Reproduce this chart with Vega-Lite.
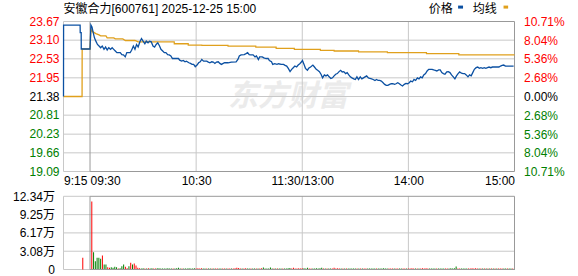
{
"$schema": "https://vega.github.io/schema/vega-lite/v6.json",
"width": 461, "height": 248,
"autosize": {"type": "none"},
"padding": {"left": 58.5, "top": 21.5, "right": 58.5, "bottom": 6.5},
"config": {"view": {"stroke": null}, "font": "Liberation Sans, Noto Sans CJK SC, sans-serif"},
"datasets": {
"price": [{"t":0,"p":21.38},{"t":0.05,"p":23.56},{"t":9.4,"p":23.56},{"t":9.45,"p":23.33},{"t":10.0,"p":23.33},{"t":10.05,"p":22.83},{"t":15,"p":22.83},
{"t":15.5,"p":23.56},{"t":16.1,"p":23.5},{"t":16.8,"p":23.33},{"t":17.5,"p":23.17},{"t":18.3,"p":23.07},{"t":19.2,"p":22.97},{"t":20.1,"p":22.92},{"t":21.0,"p":22.87},{"t":21.9,"p":22.92},{"t":22.9,"p":22.82},{"t":23.8,"p":22.89},{"t":24.7,"p":22.8},{"t":25.6,"p":22.87},{"t":26.6,"p":22.82},{"t":27.5,"p":22.87},{"t":28.4,"p":22.82},{"t":29.3,"p":22.77},{"t":30.2,"p":22.72},{"t":32.1,"p":22.72},{"t":33.0,"p":22.66},{"t":33.9,"p":22.65},{"t":34.9,"p":22.59},{"t":35.8,"p":22.72},{"t":37.7,"p":22.72},{"t":38.5,"p":22.79},{"t":39.5,"p":22.92},{"t":40.4,"p":22.82},{"t":41.3,"p":22.97},{"t":42.2,"p":22.89},{"t":43.2,"p":23.05},{"t":44.1,"p":23.15},{"t":45.0,"p":23.07},{"t":46.0,"p":22.99},{"t":46.8,"p":23.07},{"t":47.8,"p":23.02},{"t":48.7,"p":23.07},{"t":49.6,"p":23.05},
{"t":50.6,"p":22.92},{"t":51.5,"p":22.89},{"t":52.4,"p":22.97},{"t":53.3,"p":23.02},{"t":54.3,"p":22.92},{"t":55.1,"p":22.82},{"t":56.1,"p":22.77},{"t":57.0,"p":22.72},{"t":57.9,"p":22.72},{"t":58.9,"p":22.66},{"t":59.8,"p":22.65},{"t":60.7,"p":22.62},{"t":61.6,"p":22.54},{"t":63.5,"p":22.54},{"t":65.0,"p":22.54},{"t":65.7,"p":22.49},{"t":66.8,"p":22.46},{"t":67.7,"p":22.48},{"t":68.7,"p":22.44},{"t":69.5,"p":22.46},{"t":70.9,"p":22.41},{"t":71.8,"p":22.39},{"t":72.7,"p":22.36},{"t":73.6,"p":22.36},{"t":74.5,"p":22.29},{"t":75.5,"p":22.34},{"t":76.4,"p":22.41},{"t":77.3,"p":22.44},{"t":78.2,"p":22.51},{"t":79.2,"p":22.46},{"t":81.0,"p":22.46},{"t":81.9,"p":22.43},{"t":82.8,"p":22.41},{"t":83.8,"p":22.44},{"t":84.7,"p":22.43},{"t":85.6,"p":22.39},{"t":86.5,"p":22.43},{"t":87.5,"p":22.44},{"t":88.4,"p":22.39},{"t":89.3,"p":22.36},{"t":90.3,"p":22.39},{"t":91.1,"p":22.41},{"t":93.0,"p":22.41},{"t":94.9,"p":22.43},{"t":97.6,"p":22.44},{"t":98.6,"p":22.51},{"t":99.4,"p":22.62},{"t":100.4,"p":22.65},{"t":102.2,"p":22.66},
{"t":103.2,"p":22.69},{"t":104.1,"p":22.72},{"t":105.0,"p":22.66},{"t":105.9,"p":22.65},{"t":107.2,"p":22.65},{"t":108.3,"p":22.59},{"t":109.1,"p":22.62},{"t":110.2,"p":22.51},{"t":110.9,"p":22.59},{"t":112.4,"p":22.59},{"t":113.3,"p":22.56},{"t":114.6,"p":22.54},{"t":115.7,"p":22.54},{"t":116.4,"p":22.48},{"t":117.6,"p":22.44},{"t":118.3,"p":22.36},{"t":119.4,"p":22.38},{"t":120.7,"p":22.36},{"t":121.6,"p":22.38},{"t":123.1,"p":22.36},{"t":124.4,"p":22.36},{"t":125.3,"p":22.33},{"t":126.2,"p":22.31},{"t":127.1,"p":22.24},{"t":128.1,"p":22.14},{"t":129.0,"p":22.21},{"t":129.9,"p":22.26},{"t":130.8,"p":22.31},{"t":131.8,"p":22.28},{"t":132.7,"p":22.34},{"t":133.6,"p":22.38},{"t":134.6,"p":22.44},{"t":135.1,"p":22.48},{"t":136.0,"p":22.36},{"t":136.8,"p":22.24},{"t":137.9,"p":22.18},{"t":138.6,"p":22.24},{"t":139.7,"p":22.28},{"t":141.0,"p":22.34},{"t":141.9,"p":22.28},{"t":142.9,"p":22.21},{"t":143.7,"p":22.18},{"t":144.7,"p":22.14},{"t":145.6,"p":22.06},{"t":146.5,"p":21.95},{"t":147.5,"p":22.04},{"t":148.4,"p":22.01},{"t":149.3,"p":22.04},{"t":150.2,"p":21.98},{"t":151.2,"p":21.93},{"t":152.1,"p":21.95},{"t":153.0,"p":22.01},{"t":153.9,"p":22.06},{"t":154.8,"p":22.08},
{"t":155.8,"p":22.14},{"t":156.7,"p":22.18},{"t":157.6,"p":22.13},{"t":158.5,"p":22.14},{"t":159.5,"p":22.08},{"t":160.4,"p":22.11},{"t":161.3,"p":22.04},{"t":162.2,"p":21.98},{"t":163.1,"p":21.95},{"t":164.1,"p":21.92},{"t":165.0,"p":21.9},{"t":165.9,"p":21.98},{"t":166.8,"p":21.9},{"t":167.8,"p":21.98},{"t":168.7,"p":21.92},{"t":169.6,"p":21.95},{"t":170.5,"p":21.98},{"t":171.4,"p":22.01},{"t":172.4,"p":21.95},{"t":173.3,"p":21.93},{"t":174.2,"p":21.92},{"t":175.1,"p":21.9},{"t":176.1,"p":21.87},{"t":177.0,"p":21.9},{"t":177.9,"p":21.87},{"t":178.8,"p":21.87},{"t":179.7,"p":21.85},{"t":180.7,"p":21.8},{"t":181.6,"p":21.75},{"t":182.5,"p":21.72},{"t":183.4,"p":21.72},{"t":184.4,"p":21.75},{"t":185.3,"p":21.77},{"t":186.2,"p":21.77},{"t":187.2,"p":21.75},{"t":188.0,"p":21.77},{"t":189.0,"p":21.8},{"t":189.9,"p":21.77},{"t":190.8,"p":21.73},{"t":191.7,"p":21.7},{"t":192.7,"p":21.75},{"t":193.6,"p":21.78},{"t":194.5,"p":21.77},{"t":195.5,"p":21.8},{"t":196.3,"p":21.85},{"t":197.3,"p":21.83},{"t":198.2,"p":21.9},{"t":199.1,"p":21.87},{"t":200.1,"p":21.95},{"t":201.0,"p":21.92},{"t":201.9,"p":21.98},{"t":202.8,"p":21.95},{"t":203.7,"p":22.04},{"t":204.7,"p":22.08},{"t":205.6,"p":22.16},{"t":206.5,"p":22.21},{"t":207.4,"p":22.21},
{"t":208.4,"p":22.21},{"t":209.3,"p":22.19},{"t":210.2,"p":22.18},{"t":211.1,"p":22.16},{"t":212.1,"p":22.19},{"t":213.0,"p":22.19},{"t":213.9,"p":22.11},{"t":214.8,"p":22.08},{"t":215.7,"p":22.06},{"t":216.7,"p":22.13},{"t":217.6,"p":22.14},{"t":218.5,"p":22.11},{"t":219.4,"p":22.04},{"t":220.4,"p":21.98},{"t":221.3,"p":21.92},{"t":222.2,"p":22.01},{"t":223.1,"p":22.08},{"t":224.0,"p":22.13},{"t":225.0,"p":22.09},{"t":225.9,"p":22.08},{"t":226.8,"p":22.08},{"t":227.7,"p":22.04},{"t":228.7,"p":21.98},{"t":229.6,"p":22.04},{"t":230.5,"p":22.01},{"t":231.4,"p":22.11},{"t":232.3,"p":22.21},{"t":233.3,"p":22.26},{"t":234.2,"p":22.28},{"t":235.1,"p":22.24},{"t":236.0,"p":22.26},{"t":237.0,"p":22.24},{"t":237.9,"p":22.26},{"t":238.8,"p":22.24},{"t":239.7,"p":22.26},{"t":240.6,"p":22.28},{"t":241.6,"p":22.26},{"t":242.5,"p":22.28},{"t":244.3,"p":22.28},{"t":246.2,"p":22.28},{"t":247.1,"p":22.31},{"t":248.0,"p":22.33},{"t":248.9,"p":22.34},{"t":249.9,"p":22.31},{"t":252.6,"p":22.31},{"t":254.5,"p":22.31}],
"avg": [{"t":0,"p":21.38},{"t":10.5,"p":21.38},{"t":10.55,"p":22.83},{"t":15,"p":22.83},{"t":15.5,"p":23.43},{"t":16.4,"p":23.36},{"t":18.3,"p":23.3},{"t":20.1,"p":23.26},{"t":21.0,"p":23.23},{"t":24.0,"p":23.23},{"t":24.7,"p":23.17},{"t":28.4,"p":23.17},{"t":29.3,"p":23.14},{"t":33.5,"p":23.14},{"t":35.0,"p":23.09},{"t":40.4,"p":23.09},{"t":42.2,"p":23.05},{"t":62.6,"p":23.05},{"t":62.65,"p":22.99},{"t":70.5,"p":22.99},{"t":70.55,"p":22.95},{"t":78.2,"p":22.95},{"t":78.25,"p":22.94},{"t":93.0,"p":22.94},{"t":93.05,"p":22.92},{"t":108.7,"p":22.92},{"t":108.75,"p":22.89},{"t":120.2,"p":22.89},{"t":120.25,"p":22.85},{"t":130.5,"p":22.85},{"t":130.55,"p":22.82},{"t":145.2,"p":22.82},{"t":145.25,"p":22.79},{"t":153.0,"p":22.79},{"t":153.05,"p":22.77},{"t":166.8,"p":22.77},{"t":166.85,"p":22.74},{"t":183.1,"p":22.74},{"t":183.15,"p":22.72},{"t":205.2,"p":22.72},{"t":205.25,"p":22.69},{"t":223.5,"p":22.69},{"t":223.55,"p":22.65},{"t":255,"p":22.65}],
"vol": [{"t":10.9,"v":2.0,"c":"r"},
{"t":16,"v":11.48,"c":"r"},{"t":17,"v":2.9,"c":"g"},{"t":18,"v":1.4,"c":"g"},{"t":19,"v":2.0,"c":"g"},{"t":20,"v":2.0,"c":"g"},{"t":21,"v":1.8,"c":"g"},{"t":22,"v":2.35,"c":"r"},{"t":23,"v":0.84,"c":"g"},{"t":24,"v":0.84,"c":"g"},{"t":25,"v":0.4,"c":"r"},
{"t":26,"v":0.28,"c":"r"},{"t":27,"v":0.39,"c":"g"},{"t":28,"v":0.28,"c":"g"},{"t":29,"v":0.45,"c":"g"},{"t":30,"v":0.39,"c":"g"},{"t":31,"v":0.17,"c":"r"},{"t":32,"v":0.2,"c":"g"},{"t":33,"v":0.56,"c":"g"},{"t":34,"v":0.84,"c":"g"},{"t":35,"v":0.45,"c":"r"},
{"t":36,"v":0.2,"c":"r"},{"t":37,"v":0.56,"c":"g"},{"t":38,"v":1.12,"c":"r"},{"t":39,"v":0.84,"c":"g"},{"t":40,"v":1.01,"c":"r"},{"t":41,"v":0.67,"c":"r"},{"t":42,"v":0.28,"c":"r"},{"t":43,"v":0.2,"c":"r"},
{"t":44,"v":0.17,"c":"g"},{"t":45,"v":0.21,"c":"g"},{"t":46,"v":0.17,"c":"r"},{"t":47,"v":0.15,"c":"g"},{"t":48,"v":0.2,"c":"r"},{"t":49,"v":0.17,"c":"g"},{"t":50,"v":0.21,"c":"g"},{"t":51,"v":0.17,"c":"r"},{"t":52,"v":0.15,"c":"r"},{"t":53,"v":0.2,"c":"g"},
{"t":54,"v":0.22,"c":"g"},{"t":55,"v":0.17,"c":"g"},{"t":56,"v":0.17,"c":"g"},{"t":57,"v":0.15,"c":"g"},{"t":58,"v":0.17,"c":"g"},{"t":59,"v":0.2,"c":"g"},{"t":60,"v":0.17,"c":"g"},{"t":61,"v":0.15,"c":"g"},{"t":62,"v":0.17,"c":"r"},{"t":63,"v":0.15,"c":"g"},
{"t":64,"v":0.2,"c":"g"},{"t":65,"v":0.3,"c":"g"},{"t":66,"v":0.17,"c":"g"},{"t":67,"v":0.15,"c":"r"},{"t":68,"v":0.17,"c":"g"},{"t":69,"v":0.15,"c":"g"},{"t":70,"v":0.17,"c":"g"},{"t":71,"v":0.2,"c":"g"},{"t":72,"v":0.15,"c":"g"},{"t":73,"v":0.17,"c":"g"},
{"t":74,"v":0.21,"c":"g"},{"t":75,"v":0.17,"c":"r"},{"t":76,"v":0.2,"c":"r"},{"t":77,"v":0.17,"c":"r"},{"t":78,"v":0.21,"c":"r"},{"t":79,"v":0.15,"c":"g"},{"t":80,"v":0.17,"c":"g"},{"t":81,"v":0.15,"c":"r"},{"t":82,"v":0.17,"c":"g"},{"t":83,"v":0.15,"c":"g"},
{"t":84,"v":0.17,"c":"r"},{"t":85,"v":0.15,"c":"g"},{"t":86,"v":0.17,"c":"r"},{"t":87,"v":0.15,"c":"r"},{"t":88,"v":0.17,"c":"g"},{"t":89,"v":0.15,"c":"g"},{"t":90,"v":0.17,"c":"r"},{"t":91,"v":0.15,"c":"r"},{"t":92,"v":0.17,"c":"g"},{"t":93,"v":0.15,"c":"r"},
{"t":94,"v":0.17,"c":"r"},{"t":95,"v":0.15,"c":"g"},{"t":96,"v":0.17,"c":"r"},{"t":97,"v":0.2,"c":"r"},{"t":98,"v":0.3,"c":"r"},{"t":99,"v":0.24,"c":"r"},{"t":100,"v":0.17,"c":"r"},{"t":101,"v":0.15,"c":"g"},{"t":102,"v":0.17,"c":"r"},{"t":103,"v":0.2,"c":"r"},
{"t":104,"v":0.15,"c":"g"},{"t":105,"v":0.17,"c":"g"},{"t":106,"v":0.15,"c":"r"},{"t":107,"v":0.17,"c":"g"},{"t":108,"v":0.15,"c":"g"},{"t":109,"v":0.17,"c":"r"},{"t":110,"v":0.15,"c":"g"},{"t":111,"v":0.17,"c":"r"},{"t":112,"v":0.2,"c":"r"},{"t":113,"v":0.35,"c":"g"},
{"t":114,"v":0.17,"c":"g"},{"t":115,"v":0.15,"c":"g"},{"t":116,"v":0.17,"c":"g"},{"t":117,"v":0.35,"c":"g"},{"t":118,"v":0.17,"c":"g"},{"t":119,"v":0.15,"c":"r"},{"t":120,"v":0.17,"c":"g"},{"t":121,"v":0.15,"c":"r"},{"t":122,"v":0.17,"c":"g"},{"t":123,"v":0.15,"c":"g"},
{"t":124,"v":0.17,"c":"r"},{"t":125,"v":0.15,"c":"g"},{"t":126,"v":0.17,"c":"g"},{"t":127,"v":0.21,"c":"g"},{"t":128,"v":0.24,"c":"g"},{"t":129,"v":0.17,"c":"r"},{"t":130,"v":0.3,"c":"r"},{"t":131,"v":0.15,"c":"r"},{"t":132,"v":0.17,"c":"r"},{"t":133,"v":0.2,"c":"r"},
{"t":134,"v":0.17,"c":"r"},{"t":135,"v":0.21,"c":"r"},{"t":136,"v":0.2,"c":"g"},{"t":137,"v":0.17,"c":"g"},{"t":138,"v":0.3,"c":"g"},{"t":139,"v":0.15,"c":"r"},{"t":140,"v":0.17,"c":"r"},{"t":141,"v":0.15,"c":"g"},{"t":142,"v":0.17,"c":"g"},{"t":143,"v":0.2,"c":"g"},
{"t":144,"v":0.17,"c":"g"},{"t":145,"v":0.21,"c":"g"},{"t":146,"v":0.3,"c":"g"},{"t":147,"v":0.17,"c":"r"},{"t":148,"v":0.15,"c":"g"},{"t":149,"v":0.17,"c":"r"},{"t":150,"v":0.15,"c":"g"},{"t":151,"v":0.17,"c":"g"},{"t":152,"v":0.15,"c":"r"},{"t":153,"v":0.3,"c":"r"},
{"t":154,"v":0.17,"c":"r"},{"t":155,"v":0.2,"c":"r"},{"t":156,"v":0.17,"c":"r"},{"t":157,"v":0.15,"c":"g"},{"t":158,"v":0.17,"c":"r"},{"t":159,"v":0.15,"c":"g"},{"t":160,"v":0.17,"c":"r"},{"t":161,"v":0.15,"c":"g"},{"t":162,"v":0.17,"c":"g"},{"t":163,"v":0.15,"c":"g"},
{"t":164,"v":0.17,"c":"g"},{"t":165,"v":0.15,"c":"g"},{"t":166,"v":0.17,"c":"r"},{"t":167,"v":0.15,"c":"g"},{"t":168,"v":0.17,"c":"r"},{"t":169,"v":0.15,"c":"g"},{"t":170,"v":0.17,"c":"r"},{"t":171,"v":0.15,"c":"r"},{"t":172,"v":0.17,"c":"g"},{"t":173,"v":0.15,"c":"g"},
{"t":174,"v":0.17,"c":"g"},{"t":175,"v":0.15,"c":"g"},{"t":176,"v":0.17,"c":"g"},{"t":177,"v":0.15,"c":"r"},{"t":178,"v":0.17,"c":"g"},{"t":179,"v":0.15,"c":"g"},{"t":180,"v":0.17,"c":"g"},{"t":181,"v":0.2,"c":"g"},{"t":182,"v":0.17,"c":"g"},{"t":183,"v":0.15,"c":"g"},
{"t":184,"v":0.17,"c":"r"},{"t":185,"v":0.15,"c":"r"},{"t":186,"v":0.17,"c":"r"},{"t":187,"v":0.15,"c":"g"},{"t":188,"v":0.17,"c":"r"},{"t":189,"v":0.15,"c":"r"},{"t":190,"v":0.17,"c":"g"},{"t":191,"v":0.15,"c":"g"},{"t":192,"v":0.17,"c":"r"},{"t":193,"v":0.15,"c":"r"},
{"t":194,"v":0.17,"c":"g"},{"t":195,"v":0.15,"c":"r"},{"t":196,"v":0.17,"c":"r"},{"t":197,"v":0.2,"c":"r"},{"t":198,"v":0.17,"c":"r"},{"t":199,"v":0.15,"c":"g"},{"t":200,"v":0.17,"c":"r"},{"t":201,"v":0.15,"c":"g"},{"t":202,"v":0.17,"c":"r"},{"t":203,"v":0.2,"c":"r"},
{"t":204,"v":0.17,"c":"r"},{"t":205,"v":0.21,"c":"r"},{"t":206,"v":0.17,"c":"r"},{"t":207,"v":0.15,"c":"g"},{"t":208,"v":0.17,"c":"g"},{"t":209,"v":0.15,"c":"g"},{"t":210,"v":0.17,"c":"g"},{"t":211,"v":0.15,"c":"r"},{"t":212,"v":0.17,"c":"g"},{"t":213,"v":0.15,"c":"g"},
{"t":214,"v":0.17,"c":"g"},{"t":215,"v":0.15,"c":"g"},{"t":216,"v":0.17,"c":"r"},{"t":217,"v":0.15,"c":"r"},{"t":218,"v":0.17,"c":"g"},{"t":219,"v":0.2,"c":"g"},{"t":220,"v":0.17,"c":"g"},{"t":221,"v":0.21,"c":"g"},{"t":222,"v":0.5,"c":"g"},{"t":223,"v":0.17,"c":"r"},
{"t":224,"v":0.15,"c":"r"},{"t":225,"v":0.17,"c":"g"},{"t":226,"v":0.15,"c":"g"},{"t":227,"v":0.17,"c":"g"},{"t":228,"v":0.15,"c":"g"},{"t":229,"v":0.17,"c":"r"},{"t":230,"v":0.15,"c":"r"},{"t":231,"v":0.2,"c":"r"},{"t":232,"v":0.17,"c":"r"},{"t":233,"v":0.21,"c":"r"},
{"t":234,"v":0.17,"c":"r"},{"t":235,"v":0.15,"c":"g"},{"t":236,"v":0.17,"c":"r"},{"t":237,"v":0.15,"c":"g"},{"t":238,"v":0.17,"c":"r"},{"t":239,"v":0.15,"c":"g"},{"t":240,"v":0.17,"c":"r"},{"t":241,"v":0.15,"c":"g"},{"t":242,"v":0.17,"c":"r"},{"t":243,"v":0.15,"c":"g"},
{"t":244,"v":0.17,"c":"r"},{"t":245,"v":0.15,"c":"g"},{"t":246,"v":0.17,"c":"r"},{"t":247,"v":0.15,"c":"r"},{"t":248,"v":0.17,"c":"r"},{"t":249,"v":0.15,"c":"g"},{"t":250,"v":0.17,"c":"g"},{"t":251,"v":0.15,"c":"r"},{"t":252,"v":0.17,"c":"g"},{"t":253,"v":0.15,"c":"g"},
{"t":254,"v":0.17,"c":"r"},{"t":255,"v":0.21,"c":"g"}],
"vgrid": [{"t":0},{"t":75},{"t":135},{"t":195}],
"pgrid": [{"p":19.09},{"p":19.66},{"p":20.23},{"p":20.81},{"p":21.38},{"p":21.95},{"p":22.53},{"p":23.10},{"p":23.67}],
"vlev": [{"v":0},{"v":3.08},{"v":6.17},{"v":9.25},{"v":12.34}]
},
"resolve": {"scale": {"y": "independent"}},
"layer": [
{"data": {"values": [{"pct": -10.71}, {"pct": 10.71}]},
 "mark": {"type": "point", "opacity": 0},
 "encoding": {
  "x": {"datum": 100},
  "y": {"field": "pct", "type": "quantitative", "scale": {"domain": [-10.71, 10.71], "range": [150, 0], "nice": false, "zero": false},
   "axis": {"orient": "right", "values": [-10.71, -8.04, -5.36, -2.68, 0, 2.68, 5.36, 8.04, 10.71], "labelExpr": "format(abs(datum.value), '.2f') + '%'",
    "title": null, "domain": false, "ticks": false, "tickSize": 0, "grid": false, "labelPadding": 4, "labelFontSize": 12, "labelFont": "Liberation Sans", "labelFlush": false, "labelOverlap": false,
    "labelColor": {"condition": [{"test": "datum.value > 0.01", "value": "#ff0000"}, {"test": "datum.value < -0.01", "value": "#008000"}], "value": "#000000"}}}}},
{"data": {"name": "vlev"},
 "mark": {"type": "point", "opacity": 0},
 "encoding": {
  "x": {"datum": 100},
  "y": {"field": "v", "type": "quantitative", "scale": {"domain": [0, 12.34], "range": [248, 174.8], "nice": false, "zero": false},
   "axis": {"orient": "left", "values": [0, 3.08, 6.17, 9.25, 12.34], "labelExpr": "datum.value == 0 ? '0' : format(datum.value, '.2f') + '万'",
    "title": null, "domain": false, "ticks": false, "tickSize": 0, "labelPadding": 4, "labelFontSize": 12, "labelFont": "Liberation Sans, Noto Sans CJK SC", "labelColor": "#000000",
    "labelFlush": false, "labelOverlap": false, "grid": false}}}},
{"data": {"name": "vgrid"},
 "mark": {"type": "point", "opacity": 0},
 "encoding": {
  "x": {"field": "t", "type": "quantitative", "scale": {"domain": [0, 255], "nice": false, "zero": false},
   "axis": {"orient": "bottom", "offset": -98, "values": [0, 15, 75, 135, 195, 255], "domain": false, "ticks": false, "tickSize": 0, "grid": false, "title": null,
    "labelExpr": "datum.value == 0 ? '9:15' : datum.value == 15 ? '09:30' : datum.value == 75 ? '10:30' : datum.value == 135 ? '11:30/13:00' : datum.value == 195 ? '14:00' : '15:00'",
    "labelAlign": {"condition": [{"test": "datum.value <= 15", "value": "left"}, {"test": "datum.value >= 255", "value": "right"}], "value": "center"},
    "labelFlush": false, "labelOverlap": false, "labelPadding": 4, "labelFontSize": 12, "labelColor": "#000000", "labelFont": "Liberation Sans"}},
  "y": {"datum": 0, "axis": null}}},
{
"layer": [
{"data": {"values": [{"w": "东方财富"}]},
 "mark": {"type": "text", "align": "center", "baseline": "middle", "fontSize": 30, "fontWeight": "bold", "fontStyle": "italic", "color": "#ebebeb", "font": "Noto Sans CJK SC"},
 "encoding": {"text": {"field": "w"}, "x": {"datum": 127}, "y": {"datum": 21.38, "axis": null}}},
{"data": {"values": [{}]}, "mark": {"type": "rule", "color": "#c8c8c8", "strokeWidth": 1}, "encoding": {"x": {"datum": 0}, "x2": {"datum": 255}, "y": {"datum": 19.66, "axis": null}}},
{"data": {"values": [{}]}, "mark": {"type": "rule", "color": "#c8c8c8", "strokeWidth": 1}, "encoding": {"x": {"datum": 0}, "x2": {"datum": 255}, "y": {"datum": 20.23, "axis": null}}},
{"data": {"values": [{}]}, "mark": {"type": "rule", "color": "#c8c8c8", "strokeWidth": 1}, "encoding": {"x": {"datum": 0}, "x2": {"datum": 255}, "y": {"datum": 20.81, "axis": null}}},
{"data": {"values": [{}]}, "mark": {"type": "rule", "color": "#c8c8c8", "strokeWidth": 1}, "encoding": {"x": {"datum": 0}, "x2": {"datum": 255}, "y": {"datum": 21.38, "axis": null}}},
{"data": {"values": [{}]}, "mark": {"type": "rule", "color": "#c8c8c8", "strokeWidth": 1}, "encoding": {"x": {"datum": 0}, "x2": {"datum": 255}, "y": {"datum": 21.95, "axis": null}}},
{"data": {"values": [{}]}, "mark": {"type": "rule", "color": "#c8c8c8", "strokeWidth": 1}, "encoding": {"x": {"datum": 0}, "x2": {"datum": 255}, "y": {"datum": 22.53, "axis": null}}},
{"data": {"values": [{}]}, "mark": {"type": "rule", "color": "#c8c8c8", "strokeWidth": 1}, "encoding": {"x": {"datum": 0}, "x2": {"datum": 255}, "y": {"datum": 23.10, "axis": null}}},
{"data": {"values": [{}]}, "mark": {"type": "rule", "color": "#c8c8c8", "strokeWidth": 1}, "encoding": {"x": {"datum": 0}, "x2": {"datum": 15}, "y": {"datum": 23.67, "axis": null}}},
{"data": {"values": [{}]}, "mark": {"type": "rule", "color": "#c8c8c8", "strokeWidth": 1}, "encoding": {"x": {"datum": 0}, "x2": {"datum": 15}, "y": {"datum": 19.09, "axis": null}}},
{"data": {"values": [{}]}, "mark": {"type": "rule", "color": "#c8c8c8", "strokeWidth": 1}, "encoding": {"x": {"datum": 0}, "y": {"datum": 19.09, "axis": null}, "y2": {"datum": 23.67}}},
{"data": {"values": [{}]}, "mark": {"type": "rule", "color": "#c8c8c8", "strokeWidth": 1}, "encoding": {"x": {"datum": 75}, "y": {"datum": 19.09, "axis": null}, "y2": {"datum": 23.67}}},
{"data": {"values": [{}]}, "mark": {"type": "rule", "color": "#c8c8c8", "strokeWidth": 1}, "encoding": {"x": {"datum": 135}, "y": {"datum": 19.09, "axis": null}, "y2": {"datum": 23.67}}},
{"data": {"values": [{}]}, "mark": {"type": "rule", "color": "#c8c8c8", "strokeWidth": 1}, "encoding": {"x": {"datum": 195}, "y": {"datum": 19.09, "axis": null}, "y2": {"datum": 23.67}}},
{"data": {"name": "pgrid"},
 "mark": {"type": "text", "align": "right", "baseline": "middle", "dx": -4, "fontSize": 12, "font": "Liberation Sans"},
 "encoding": {"y": {"field": "p", "type": "quantitative", "axis": null}, "x": {"datum": 0},
  "text": {"field": "p", "type": "quantitative", "format": ".2f"},
  "color": {"condition": [{"test": "datum.p > 21.4", "value": "#ff0000"}, {"test": "datum.p < 21.3", "value": "#008000"}], "value": "#000000"}}},
{"data": {"values": [{}]},
 "mark": {"type": "rule", "color": "#999999", "strokeWidth": 1},
 "encoding": {"x": {"datum": 15}, "y": {"datum": 19.09, "axis": null}, "y2": {"datum": 23.67}}},
{"data": {"values": [{}]},
 "mark": {"type": "rule", "color": "#999999", "strokeWidth": 1},
 "encoding": {"x": {"datum": 255}, "y": {"datum": 19.09, "axis": null}, "y2": {"datum": 23.67}}},
{"data": {"values": [{}]},
 "mark": {"type": "rule", "color": "#999999", "strokeWidth": 1},
 "encoding": {"x": {"datum": 15}, "x2": {"datum": 255}, "y": {"datum": 23.67, "axis": null}}},
{"data": {"values": [{}]},
 "mark": {"type": "rule", "color": "#999999", "strokeWidth": 1},
 "encoding": {"x": {"datum": 15}, "x2": {"datum": 255}, "y": {"datum": 19.09, "axis": null}}},
{"data": {"name": "avg"},
 "mark": {"type": "line", "color": "#e0a01c", "strokeWidth": 1.3},
 "encoding": {"x": {"field": "t", "type": "quantitative"}, "y": {"field": "p", "type": "quantitative", "scale": {"domain": [19.09, 23.67], "range": [150, 0], "nice": false, "zero": false}, "axis": null}}},
{"data": {"name": "price"},
 "mark": {"type": "line", "color": "#0b50a2", "strokeWidth": 1.3},
 "encoding": {"x": {"field": "t", "type": "quantitative"}, "y": {"field": "p", "type": "quantitative", "axis": null}}},
{"data": {"values": [{"label": "安徽合力[600761] 2025-12-25 15:00"}]},
 "mark": {"type": "text", "align": "left", "baseline": "middle", "fontSize": 12, "color": "#000000"},
 "encoding": {"text": {"field": "label"}, "x": {"datum": 0}, "y": {"datum": 24.04, "axis": null}}},
{"data": {"values": [{"label": "价格", "t": 206.5}, {"label": "均线", "t": 231.4}]},
 "mark": {"type": "text", "align": "left", "baseline": "middle", "fontSize": 12, "color": "#000000"},
 "encoding": {"text": {"field": "label"}, "x": {"field": "t", "type": "quantitative"}, "y": {"datum": 24.04, "axis": null}}},
{"data": {"values": [{}]},
 "mark": {"type": "rule", "color": "#0b50a2", "strokeWidth": 3},
 "encoding": {"x": {"datum": 223.1}, "x2": {"datum": 225.9}, "y": {"datum": 24.11, "axis": null}}},
{"data": {"values": [{}]},
 "mark": {"type": "rule", "color": "#e0a01c", "strokeWidth": 3},
 "encoding": {"x": {"datum": 248.8}, "x2": {"datum": 251.4}, "y": {"datum": 24.11, "axis": null}}}
]
},
{
"layer": [
{"data": {"values": [{}]}, "mark": {"type": "rule", "color": "#c8c8c8", "strokeWidth": 1}, "encoding": {"x": {"datum": 0}, "x2": {"datum": 255}, "y": {"datum": 3.08, "axis": null}}},
{"data": {"values": [{}]}, "mark": {"type": "rule", "color": "#c8c8c8", "strokeWidth": 1}, "encoding": {"x": {"datum": 0}, "x2": {"datum": 255}, "y": {"datum": 6.17, "axis": null}}},
{"data": {"values": [{}]}, "mark": {"type": "rule", "color": "#c8c8c8", "strokeWidth": 1}, "encoding": {"x": {"datum": 0}, "x2": {"datum": 255}, "y": {"datum": 9.25, "axis": null}}},
{"data": {"values": [{}]}, "mark": {"type": "rule", "color": "#c8c8c8", "strokeWidth": 1}, "encoding": {"x": {"datum": 0}, "x2": {"datum": 15}, "y": {"datum": 12.34, "axis": null}}},
{"data": {"values": [{}]}, "mark": {"type": "rule", "color": "#c8c8c8", "strokeWidth": 1}, "encoding": {"x": {"datum": 0}, "x2": {"datum": 15}, "y": {"datum": 0, "axis": null}}},
{"data": {"values": [{}]}, "mark": {"type": "rule", "color": "#c8c8c8", "strokeWidth": 1}, "encoding": {"x": {"datum": 0}, "y": {"datum": 0, "axis": null}, "y2": {"datum": 12.34}}},
{"data": {"values": [{}]}, "mark": {"type": "rule", "color": "#c8c8c8", "strokeWidth": 1}, "encoding": {"x": {"datum": 75}, "y": {"datum": 0, "axis": null}, "y2": {"datum": 12.34}}},
{"data": {"values": [{}]}, "mark": {"type": "rule", "color": "#c8c8c8", "strokeWidth": 1}, "encoding": {"x": {"datum": 135}, "y": {"datum": 0, "axis": null}, "y2": {"datum": 12.34}}},
{"data": {"values": [{}]}, "mark": {"type": "rule", "color": "#c8c8c8", "strokeWidth": 1}, "encoding": {"x": {"datum": 195}, "y": {"datum": 0, "axis": null}, "y2": {"datum": 12.34}}},
{"data": {"name": "vol"},
 "mark": {"type": "bar", "size": 1},
 "encoding": {
  "x": {"field": "t", "type": "quantitative"},
  "y": {"field": "v", "type": "quantitative", "scale": {"domain": [0, 12.34], "range": [248, 174.8], "nice": false, "zero": false}, "axis": null},
  "color": {"field": "c", "type": "nominal", "scale": {"domain": ["r", "g"], "range": ["#ff0000", "#008000"]}, "legend": null}}},
{"data": {"values": [{}]},
 "mark": {"type": "rule", "color": "#999999", "strokeWidth": 1},
 "encoding": {"x": {"datum": 15}, "y": {"datum": 0, "axis": null}, "y2": {"datum": 12.34}}},
{"data": {"values": [{}]},
 "mark": {"type": "rule", "color": "#999999", "strokeWidth": 1},
 "encoding": {"x": {"datum": 255}, "y": {"datum": 0, "axis": null}, "y2": {"datum": 12.34}}},
{"data": {"values": [{}]},
 "mark": {"type": "rule", "color": "#999999", "strokeWidth": 1},
 "encoding": {"x": {"datum": 15}, "x2": {"datum": 255}, "y": {"datum": 12.34, "axis": null}}},
{"data": {"values": [{}]},
 "mark": {"type": "rule", "color": "#999999", "strokeWidth": 1},
 "encoding": {"x": {"datum": 15}, "x2": {"datum": 255}, "y": {"datum": 0, "axis": null}}}
]
}
]
}
